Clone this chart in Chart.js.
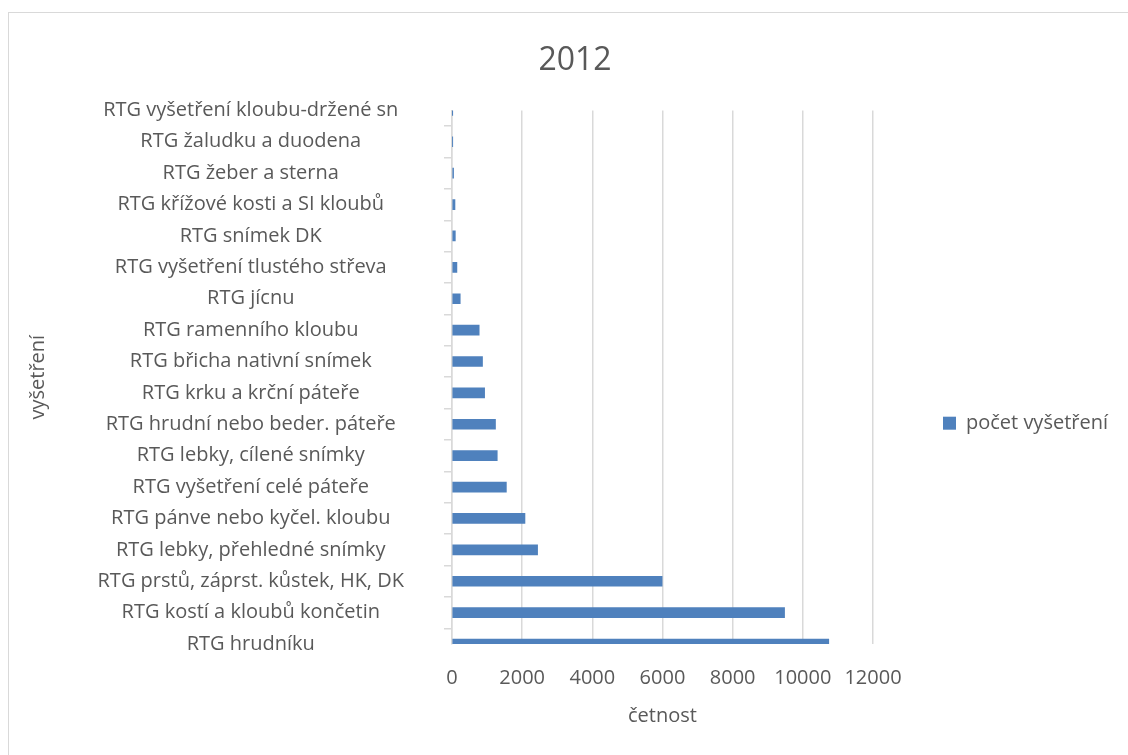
<!DOCTYPE html>
<html>
<head>
<meta charset="utf-8">
<script src="https://cdn.jsdelivr.net/npm/chart.js@4"></script>
<style>
  html, body { margin: 0; padding: 0; background: #ffffff; overflow: hidden; width: 1128px; height: 755px; }
  #frame { position: absolute; left: 8px; top: 12px; width: 1130px; height: 750px; border: 1px solid #d9d9d9; box-sizing: border-box; }
  #c { position: absolute; left: 0; top: 0; }
</style>
</head>
<body>
<div id="frame"></div>
<canvas id="c" width="1182" height="755"></canvas>
<script>
const chartTitle = '2012';
const seriesName = 'počet vyšetření';
const yAxisTitle = 'vyšetření';
const xAxisTitle = 'četnost';

const categories = [
  'RTG vyšetření kloubu-držené sn',
  'RTG žaludku a duodena',
  'RTG žeber a sterna',
  'RTG křížové kosti a SI kloubů',
  'RTG snímek DK',
  'RTG vyšetření tlustého střeva',
  'RTG jícnu',
  'RTG ramenního kloubu',
  'RTG břicha nativní snímek',
  'RTG krku a krční páteře',
  'RTG hrudní nebo beder. páteře',
  'RTG lebky, cílené snímky',
  'RTG vyšetření celé páteře',
  'RTG pánve nebo kyčel. kloubu',
  'RTG lebky, přehledné snímky',
  'RTG prstů, záprst. kůstek, HK, DK',
  'RTG kostí a kloubů končetin',
  'RTG hrudníku'
];

const counts = [2, 12, 45, 85, 95, 140, 235, 775, 870, 930, 1240, 1290, 1550, 2080, 2440, 5990, 9480, 10740];

const xMin = 0;
const xMax = 12000;
const xStep = 2000;

const FONT = "'Open Sans', 'DejaVu Sans', sans-serif";
const TXT = '#595959';
const GRID = '#d9d9d9';
const PAD_LEFT = 32;

new Chart(document.getElementById('c'), {
  type: 'bar',
  data: {
    labels: categories,
    datasets: [{
      label: seriesName,
      data: counts,
      backgroundColor: '#4f81bd',
      borderWidth: 0,
      barThickness: 10
    }]
  },
  options: {
    indexAxis: 'y',
    responsive: false,
    animation: false,
    layout: { padding: { left: PAD_LEFT, right: 64, top: 0, bottom: 0 } },
    plugins: {
      title: {
        display: true,
        text: chartTitle,
        color: TXT,
        font: { family: FONT, size: 32, weight: 'normal' },
        padding: { top: 42, bottom: 30 }
      },
      legend: {
        position: 'right',
        align: 'center',
        title: { display: true, text: '', padding: { top: 77, bottom: 0 } },
        labels: {
          color: TXT,
          font: { family: FONT, size: 20 },
          boxWidth: 13,
          boxHeight: 13,
          padding: 70
        }
      },
      tooltip: { enabled: false }
    },
    scales: {
      x: {
        type: 'linear',
        min: xMin,
        max: xMax,
        ticks: {
          stepSize: xStep,
          color: TXT,
          font: { family: FONT, size: 20 },
          padding: 22,
          maxRotation: 0,
          callback: function (v) { return String(v); }
        },
        grid: { color: GRID, lineWidth: 1.5, drawTicks: false },
        border: { display: false },
        title: {
          display: true,
          text: xAxisTitle,
          color: TXT,
          font: { family: FONT, size: 20 },
          padding: { top: 16, bottom: 27 }
        },
        afterFit: function (scale) { scale.height = 111; }
      },
      y: {
        type: 'category',
        offset: false,
        ticks: { color: TXT, font: { family: FONT, size: 20 }, padding: 40, crossAlign: 'center', autoSkip: false },
        grid: { color: GRID, lineWidth: 1.5, drawOnChartArea: false, drawTicks: true, tickLength: 8 },
        border: { display: true, color: GRID, width: 1.5 },
        title: {
          display: true,
          text: yAxisTitle,
          color: TXT,
          font: { family: FONT, size: 20 },
          padding: { top: -6, bottom: 0 }
        },
        afterFit: function (scale) { scale.width = 452 - PAD_LEFT; }
      }
    }
  }
});
</script>
</body>
</html>
